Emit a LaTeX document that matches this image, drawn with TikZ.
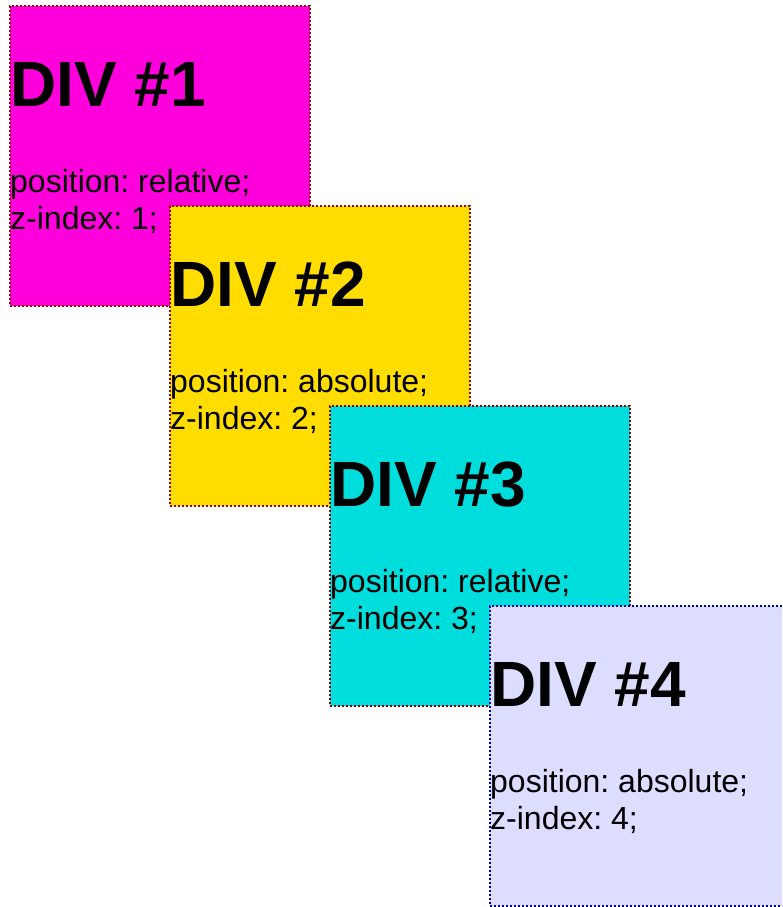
\documentclass[tikz,border=0pt]{standalone}
\usepackage{fontspec}
\setmainfont{Liberation Sans}
\usepackage{xcolor}
\usetikzlibrary{positioning,calc}
\definecolor{DivMagenta}{HTML}{FF00DD}
\definecolor{DivYellow}{HTML}{FFDD00}
\definecolor{DivCyan}{HTML}{00DDDD}
\definecolor{DivLavender}{HTML}{DDDDFF}
\definecolor{EdgeRed}{HTML}{990000}
\definecolor{EdgeBlue}{HTML}{0000AA}
\tikzset{
  divbox/.style={rectangle,minimum width=300pt,minimum height=300pt,inner sep=0pt,line width=2pt,dash pattern=on 2pt off 2pt},
  divtitle/.style={anchor=base west,inner sep=0pt,font=\fontsize{64pt}{64pt}\selectfont\bfseries},
  divtext/.style={anchor=base west,inner sep=0pt,font=\fontsize{32pt}{37pt}\selectfont}
}
\newcommand{\stackdiv}[6]{%
  \node[divbox,fill=#3,draw=#4] (#1) at (#2) {};
  \node[divtitle] (#1title) at ([xshift=1pt,yshift=-101pt]#1.north west) {DIV \##5};
  \node[divtext] (#1pos) at ([xshift=1pt,yshift=-187pt]#1.north west) {position: #6;};
  \node[divtext] (#1z) at ([xshift=1pt,yshift=-224pt]#1.north west) {z-index: #5;};}
\frenchspacing

\begin{document}
\begin{tikzpicture}[x=1pt,y=-1pt]
  \useasboundingbox (0,0) rectangle (782,907);
  \clip (0,0) rectangle (782,907);
  \stackdiv{one}{160,156}{DivMagenta}{EdgeRed}{1}{relative}
  \stackdiv{two}{320,356}{DivYellow}{EdgeRed}{2}{absolute}
  \stackdiv{three}{480,556}{DivCyan}{EdgeRed}{3}{relative}
  \stackdiv{four}{640,756}{DivLavender}{EdgeBlue}{4}{absolute}
\end{tikzpicture}
\end{document}
